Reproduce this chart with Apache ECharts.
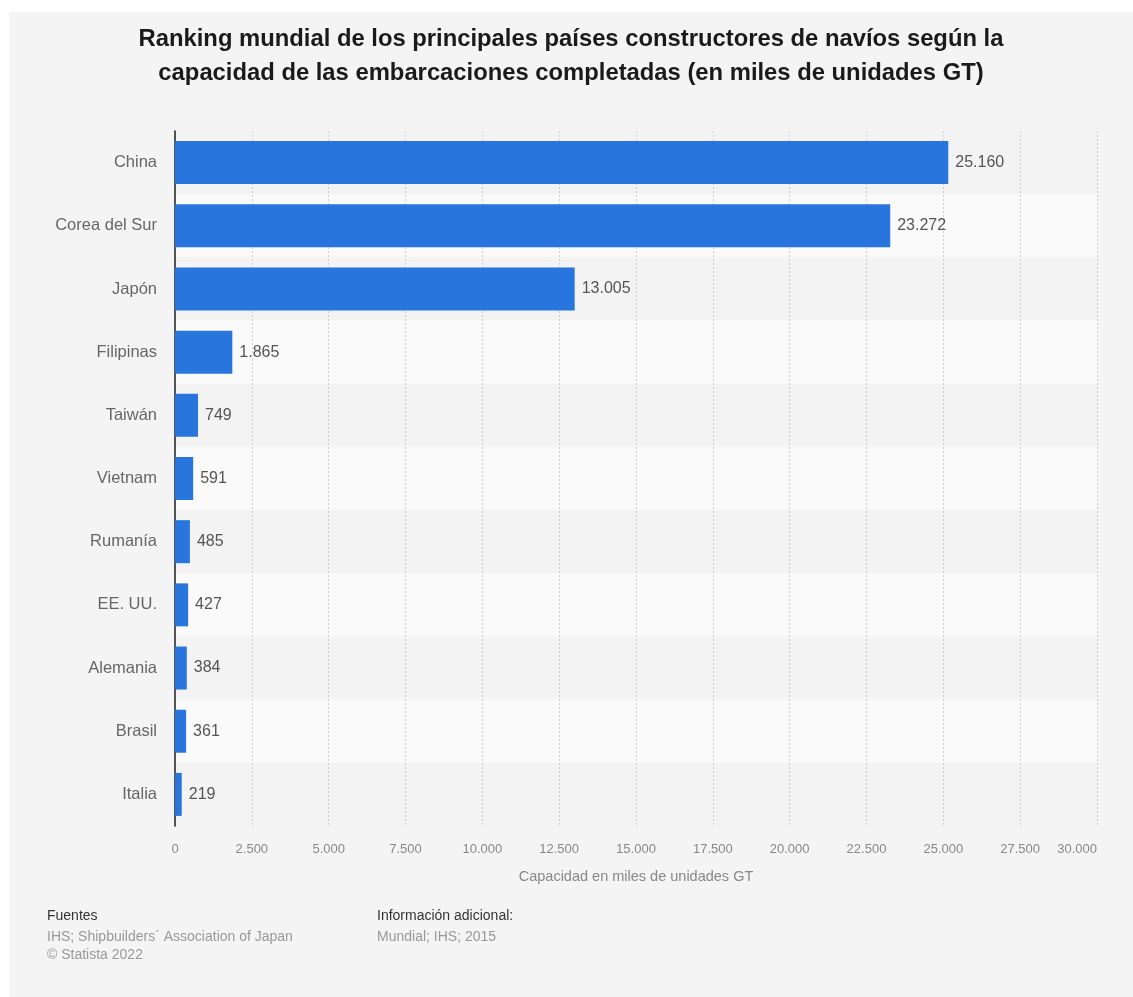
<!DOCTYPE html>
<html>
<head>
<meta charset="utf-8">
<script src="https://cdn.jsdelivr.net/npm/echarts@6/dist/echarts.min.js"></script>
<style>
  html, body { margin: 0; padding: 0; background: #ffffff; }
  #chart { position: absolute; left: 9px; top: 12px; width: 1124px; height: 985px; background: #f4f4f4; }
</style>
</head>
<body>
<div id="chart"></div>
<script>
// datos
var paises = ['China', 'Corea del Sur', 'Japón', 'Filipinas', 'Taiwán', 'Vietnam', 'Rumanía', 'EE. UU.', 'Alemania', 'Brasil', 'Italia'];
var capacidad = [25160, 23272, 13005, 1865, 749, 591, 485, 427, 384, 361, 219];

// separador de miles con punto
function miles(v) {
    return String(v).replace(/\B(?=(\d{3})+(?!\d))/g, '.');
}

var fuente = 'Liberation Sans, Arial, sans-serif';

echarts.init(document.getElementById('chart')).setOption({
    animation: false,
    title: {
        text: 'Ranking mundial de los principales países constructores de navíos según la\ncapacidad de las embarcaciones completadas (en miles de unidades GT)',
        left: 'center',
        top: 5,
        textStyle: {
            fontFamily: fuente,
            fontSize: 23.8,
            fontWeight: 'bold',
            color: '#1a1a1a',
            lineHeight: 34
        }
    },
    grid: {
        left: 166,
        top: 119,
        width: 922,
        height: 695
    },
    xAxis: {
        type: 'value',
        min: 0,
        max: 30000,
        interval: 2500,
        name: 'Capacidad en miles de unidades GT',
        nameLocation: 'middle',
        nameGap: 43,
        nameTextStyle: { fontFamily: fuente, fontSize: 14.5, color: '#888' },
        axisLine: { show: false },
        axisTick: { show: false },
        axisLabel: {
            margin: 17,
            fontFamily: fuente,
            fontSize: 13,
            color: '#888',
            alignMaxLabel: 'right',
            formatter: miles
        },
        splitLine: { lineStyle: { color: '#cfcfcf', type: [2, 2] } }
    },
    yAxis: {
        type: 'category',
        data: paises,
        inverse: true,
        axisLine: { show: true, lineStyle: { color: '#222', width: 1.5 } },
        axisTick: { show: false },
        axisLabel: { margin: 18, fontFamily: fuente, fontSize: 16.5, color: '#666' },
        splitArea: { show: true, areaStyle: { color: ['#f3f3f3', '#fafafa'] } }
    },
    series: [{
        type: 'bar',
        data: capacidad,
        barWidth: 43,
        itemStyle: { color: '#2876dd' },
        label: {
            show: true,
            position: 'right',
            distance: 7,
            fontFamily: fuente,
            fontSize: 16,
            color: '#555',
            formatter: function (p) { return miles(p.value); }
        }
    }],
    graphic: [
        { type: 'text', left: 38, top: 897, style: { text: 'Fuentes', font: '14px ' + fuente, fill: '#333' } },
        { type: 'text', left: 38, top: 918, style: { text: 'IHS; Shipbuilders´ Association of Japan', font: '14px ' + fuente, fill: '#999' } },
        { type: 'text', left: 38, top: 936, style: { text: '© Statista 2022', font: '14px ' + fuente, fill: '#999' } },
        { type: 'text', left: 368, top: 897, style: { text: 'Información adicional:', font: '14px ' + fuente, fill: '#333' } },
        { type: 'text', left: 368, top: 918, style: { text: 'Mundial; IHS; 2015', font: '14px ' + fuente, fill: '#999' } }
    ]
});
</script>
</body>
</html>
